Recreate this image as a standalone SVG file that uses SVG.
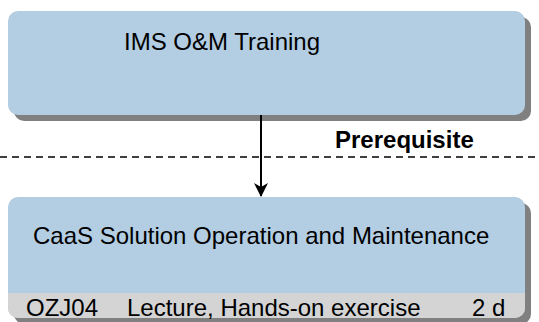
<svg xmlns="http://www.w3.org/2000/svg" width="539" height="322" viewBox="0 0 539 322">
  <defs>
    <style>
      .shadow { fill: #808080; }
      .box { fill: #B3CDE2; }
      .strip { fill: #D4D4D4; }
      .t { font-family: "Liberation Sans", Arial, sans-serif; font-size: 24px; fill: #000; }
      .b { font-family: "Liberation Sans", Arial, sans-serif; font-size: 24px; font-weight: bold; fill: #000; }
      .conn { stroke: #000; stroke-width: 2; fill: none; }
      .dash { stroke: #000; stroke-width: 1.5; stroke-dasharray: 7 5; fill: none; }
    </style>
    <marker id="arrow" viewBox="0 0 14 14" refX="13" refY="7" markerWidth="14" markerHeight="14" markerUnits="userSpaceOnUse" orient="auto">
      <path d="M0,0 L14,7 L0,14 L4,7 Z" fill="#000"/>
    </marker>
    <clipPath id="bottomClip">
      <rect x="8" y="197" width="517" height="121" rx="10"/>
    </clipPath>
  </defs>

  <rect width="539" height="322" fill="#fff"/>

  <g id="node-ims">
    <rect class="shadow" x="14" y="17" width="517" height="104" rx="10"/>
    <rect class="box" x="8" y="11" width="517" height="104" rx="10"/>
    <text class="t" x="124" y="50">IMS O&amp;M Training</text>
  </g>

  <g id="node-caas">
    <rect class="shadow" x="14" y="203" width="517" height="121" rx="10"/>
    <rect class="box" x="8" y="197" width="517" height="121" rx="10"/>
    <rect class="strip" x="8" y="293" width="517" height="25" clip-path="url(#bottomClip)"/>
    <text class="t" x="33" y="244">CaaS Solution Operation and Maintenance</text>
    <text class="t" x="26" y="316">OZJ04</text>
    <text class="t" x="127" y="316">Lecture, Hands-on exercise</text>
    <text class="t" x="472" y="316">2 d</text>
  </g>

  <g id="connectors">
    <line class="dash" x1="0" y1="157" x2="539" y2="157"/>
    <text class="b" x="335" y="148">Prerequisite</text>
    <line class="conn" x1="261" y1="115" x2="261" y2="196" marker-end="url(#arrow)"/>
  </g>
</svg>
